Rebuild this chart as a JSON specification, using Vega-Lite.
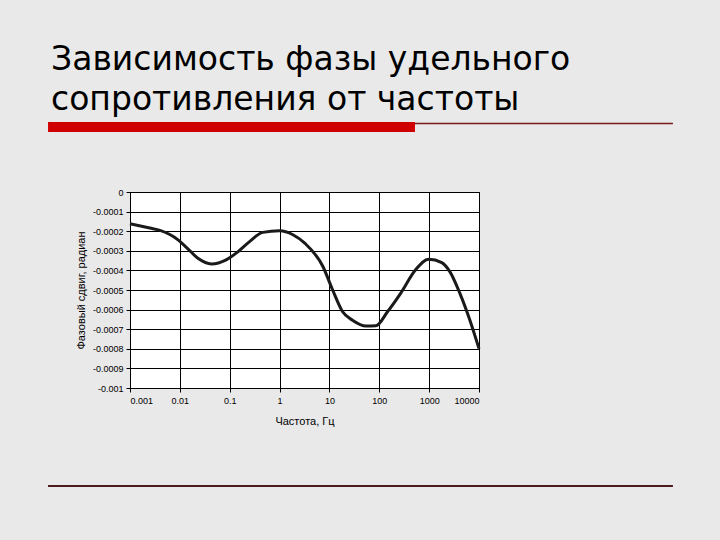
{
  "$schema": "https://vega.github.io/schema/vega-lite/v6.json",
  "autosize": "none",
  "padding": {"left": 130, "top": 192, "right": 241, "bottom": 152},
  "width": 349,
  "height": 196,
  "background": "#e9e9e9",
  "title": {
    "text": ["Зависимость фазы удельного", "сопротивления от частоты"],
    "font": "DejaVu Sans",
    "fontSize": 33,
    "fontWeight": "normal",
    "color": "#000000",
    "anchor": "start",
    "dx": 8,
    "offset": 5,
    "lineHeight": 40
  },
  "data": {
    "values": [
      {"freq": 0.001, "phase": -0.000162},
      {"freq": 0.0025, "phase": -0.000184},
      {"freq": 0.004, "phase": -0.000196},
      {"freq": 0.0092, "phase": -0.000244},
      {"freq": 0.0135, "phase": -0.000282},
      {"freq": 0.023, "phase": -0.000338},
      {"freq": 0.043, "phase": -0.000367},
      {"freq": 0.085, "phase": -0.000346},
      {"freq": 0.135, "phase": -0.000312},
      {"freq": 0.25, "phase": -0.000253},
      {"freq": 0.46, "phase": -0.000206},
      {"freq": 1, "phase": -0.000198},
      {"freq": 1.85, "phase": -0.000218},
      {"freq": 3.2, "phase": -0.000261},
      {"freq": 7.4, "phase": -0.00038},
      {"freq": 11.6, "phase": -0.0005},
      {"freq": 18.4, "phase": -0.000611},
      {"freq": 29, "phase": -0.000654},
      {"freq": 54, "phase": -0.000684},
      {"freq": 85, "phase": -0.000683},
      {"freq": 146, "phase": -0.000611},
      {"freq": 268, "phase": -0.000517},
      {"freq": 530, "phase": -0.000398},
      {"freq": 980, "phase": -0.000343},
      {"freq": 1790, "phase": -0.00036},
      {"freq": 2600, "phase": -0.000406},
      {"freq": 4140, "phase": -0.000517},
      {"freq": 6570, "phase": -0.000654},
      {"freq": 10000, "phase": -0.000799}
    ]
  },
  "layer": [
    {
      "data": {"values": [{}]},
      "mark": {"type": "rule", "color": "#7a1a1a", "strokeWidth": 1.5, "clip": false},
      "encoding": {
        "x": {"datum": 520, "type": "quantitative", "title": "Частота, Гц", "scale": {"type": "log", "domain": [0.001, 10000], "nice": false},
          "axis": {"grid": true, "labelOverlap": false, "values": [0.001, 0.01, 0.1, 1, 10, 100, 1000, 10000], "labelExpr": "'' + datum.value", "labelPadding": 4, "titlePadding": 10}},
        "x2": {"datum": 77600000},
        "y": {"datum": 0.00035, "type": "quantitative", "title": "Фазовый сдвиг, радиан", "scale": {"domain": [-0.001, 0], "nice": false, "zero": false},
          "axis": {"grid": true, "labelOverlap": false, "values": [-0.001, -0.0009, -0.0008, -0.0007, -0.0006, -0.0005, -0.0004, -0.0003, -0.0002, -0.0001, 0], "labelExpr": "datum.value == 0 ? '0' : '-' + format(-datum.value, '.1~g')", "labelPadding": 3, "titlePadding": 6}}
      }
    },
    {
      "data": {"values": [{}]},
      "mark": {"type": "rule", "color": "#d00000", "strokeWidth": 10, "clip": false},
      "encoding": {
        "x": {"datum": 0.0000227, "type": "quantitative", "title": "Частота, Гц", "scale": {"type": "log", "domain": [0.001, 10000], "nice": false},
          "axis": {"grid": true, "labelOverlap": false, "values": [0.001, 0.01, 0.1, 1, 10, 100, 1000, 10000], "labelExpr": "'' + datum.value", "labelPadding": 4, "titlePadding": 10}},
        "x2": {"datum": 520},
        "y": {"datum": 0.000332, "type": "quantitative", "title": "Фазовый сдвиг, радиан", "scale": {"domain": [-0.001, 0], "nice": false, "zero": false},
          "axis": {"grid": true, "labelOverlap": false, "values": [-0.001, -0.0009, -0.0008, -0.0007, -0.0006, -0.0005, -0.0004, -0.0003, -0.0002, -0.0001, 0], "labelExpr": "datum.value == 0 ? '0' : '-' + format(-datum.value, '.1~g')", "labelPadding": 3, "titlePadding": 6}}
      }
    },
    {
      "data": {"values": [{}]},
      "mark": {"type": "rule", "color": "#4a1c1c", "strokeWidth": 2, "clip": false},
      "encoding": {
        "x": {"datum": 0.0000227, "type": "quantitative", "title": "Частота, Гц", "scale": {"type": "log", "domain": [0.001, 10000], "nice": false},
          "axis": {"grid": true, "labelOverlap": false, "values": [0.001, 0.01, 0.1, 1, 10, 100, 1000, 10000], "labelExpr": "'' + datum.value", "labelPadding": 4, "titlePadding": 10}},
        "x2": {"datum": 77600000},
        "y": {"datum": -0.0015, "type": "quantitative", "title": "Фазовый сдвиг, радиан", "scale": {"domain": [-0.001, 0], "nice": false, "zero": false},
          "axis": {"grid": true, "labelOverlap": false, "values": [-0.001, -0.0009, -0.0008, -0.0007, -0.0006, -0.0005, -0.0004, -0.0003, -0.0002, -0.0001, 0], "labelExpr": "datum.value == 0 ? '0' : '-' + format(-datum.value, '.1~g')", "labelPadding": 3, "titlePadding": 6}}
      }
    },
    {
      "mark": {"type": "line", "color": "#1a1a1a", "strokeWidth": 3, "interpolate": "monotone"},
      "encoding": {
        "x": {
          "field": "freq",
          "type": "quantitative",
          "title": "Частота, Гц",
          "scale": {"type": "log", "domain": [0.001, 10000], "nice": false},
          "axis": {"grid": true, "labelOverlap": false, "values": [0.001, 0.01, 0.1, 1, 10, 100, 1000, 10000], "labelExpr": "'' + datum.value", "labelPadding": 4, "titlePadding": 10}
        },
        "y": {
          "field": "phase",
          "type": "quantitative",
          "title": "Фазовый сдвиг, радиан",
          "scale": {"domain": [-0.001, 0], "nice": false, "zero": false},
          "axis": {"grid": true, "labelOverlap": false, "values": [-0.001, -0.0009, -0.0008, -0.0007, -0.0006, -0.0005, -0.0004, -0.0003, -0.0002, -0.0001, 0], "labelExpr": "datum.value == 0 ? '0' : '-' + format(-datum.value, '.1~g')", "labelPadding": 3, "titlePadding": 6}
        }
      }
    }
  ],
  "config": {
    "view": {"stroke": "#000000", "fill": "#ffffff"},
    "axis": {
      "gridColor": "#000000",
      "gridOpacity": 1,
      "domainColor": "#000000",
      "tickColor": "#000000",
      "tickSize": 4,
      "labelFont": "Liberation Sans",
      "labelFontSize": 9,
      "labelColor": "#000000",
      "titleFont": "Liberation Sans",
      "titleFontSize": 11,
      "titleFontWeight": "normal",
      "titleColor": "#000000"
    }
  }
}
